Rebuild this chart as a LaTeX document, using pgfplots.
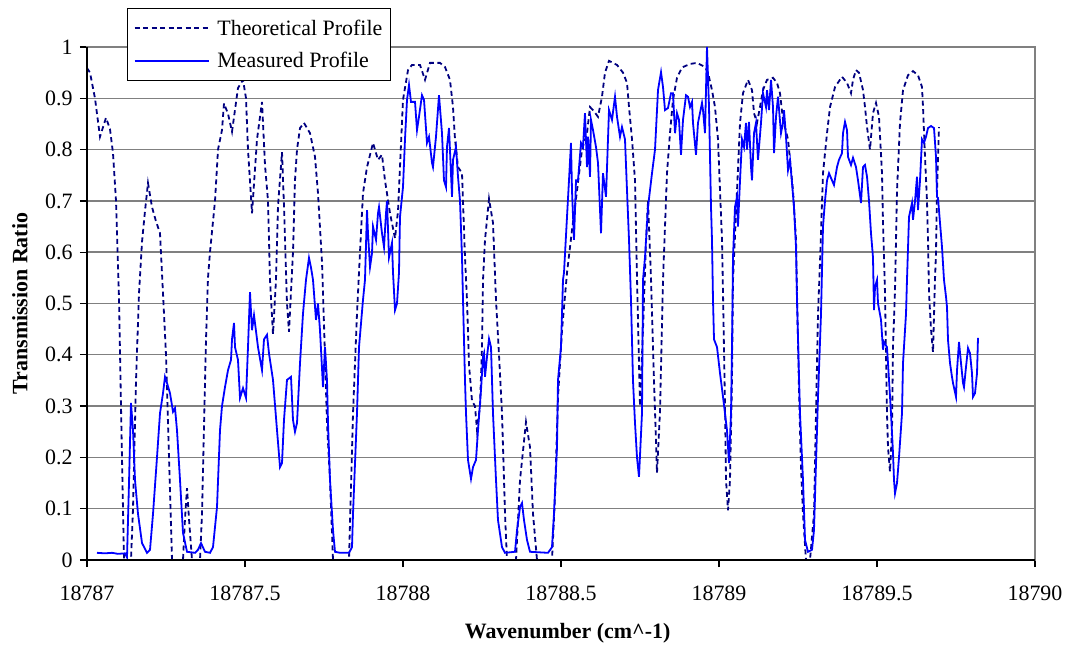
\documentclass[border=0pt]{standalone}
\usepackage{fontspec}
\setmainfont{Liberation Serif}
\usepackage{pgfplots}
\usepackage{pgfplotstable}
\pgfplotsset{compat=1.18}
\definecolor{theo}{RGB}{0,0,128}
\definecolor{meas}{RGB}{0,0,255}
\definecolor{gridgray}{RGB}{128,128,128}

% dx = wavenumber - 18787 (cm^-1)
\pgfplotstableread{
dx y
0.0000 0.959
0.0095 0.950
0.0253 0.900
0.0411 0.825
0.0601 0.862
0.0728 0.840
0.0823 0.793
0.0918 0.700
0.1013 0.510
0.1076 0.300
0.1139 0.100
0.1171 0.000
0.1392 0.000
0.1456 0.100
0.1551 0.350
0.1646 0.520
0.1741 0.620
0.1835 0.680
0.1930 0.735
0.2057 0.688
0.2184 0.660
0.2310 0.637
0.2405 0.520
0.2500 0.400
0.2595 0.200
0.2690 0.000
0.3038 0.000
0.3101 0.080
0.3165 0.140
0.3228 0.080
0.3323 0.000
0.3576 0.000
0.3639 0.090
0.3766 0.430
0.3829 0.550
0.3892 0.600
0.4051 0.700
0.4146 0.800
0.4272 0.838
0.4335 0.890
0.4462 0.870
0.4589 0.835
0.4778 0.920
0.4937 0.936
0.5032 0.900
0.5095 0.800
0.5222 0.676
0.5380 0.820
0.5538 0.893
0.5633 0.770
0.5728 0.700
0.5791 0.546
0.5886 0.440
0.5981 0.546
0.6044 0.690
0.6171 0.795
0.6234 0.690
0.6329 0.500
0.6392 0.445
0.6519 0.600
0.6582 0.740
0.6646 0.800
0.6741 0.842
0.6867 0.852
0.7057 0.832
0.7215 0.786
0.7310 0.715
0.7437 0.580
0.7500 0.460
0.7595 0.267
0.7690 0.156
0.7785 0.000
0.8291 0.000
0.8418 0.286
0.8544 0.480
0.8639 0.600
0.8734 0.715
0.8861 0.766
0.9051 0.813
0.9209 0.780
0.9335 0.790
0.9430 0.740
0.9589 0.676
0.9747 0.627
0.9842 0.680
1.0000 0.897
1.0158 0.955
1.0285 0.965
1.0538 0.965
1.0696 0.936
1.0854 0.969
1.1171 0.969
1.1329 0.961
1.1487 0.936
1.1582 0.883
1.1646 0.820
1.1741 0.766
1.1867 0.754
1.1962 0.590
1.2025 0.507
1.2089 0.380
1.2184 0.310
1.2278 0.300
1.2342 0.253
1.2437 0.300
1.2500 0.415
1.2532 0.546
1.2595 0.624
1.2722 0.704
1.2848 0.657
1.2943 0.507
1.3038 0.400
1.3133 0.286
1.3228 0.090
1.3291 0.000
1.3576 0.000
1.3703 0.156
1.3892 0.269
1.4019 0.220
1.4114 0.090
1.4241 0.000
1.4715 0.000
1.4810 0.123
1.4905 0.318
1.5032 0.448
1.5190 0.560
1.5348 0.643
1.5506 0.720
1.5665 0.800
1.5823 0.832
1.5918 0.883
1.6013 0.877
1.6171 0.864
1.6297 0.903
1.6392 0.950
1.6519 0.973
1.6772 0.965
1.6962 0.950
1.7089 0.930
1.7152 0.883
1.7247 0.820
1.7342 0.740
1.7405 0.550
1.7500 0.300
1.7595 0.450
1.7690 0.620
1.7753 0.700
1.7848 0.550
1.7943 0.350
1.8038 0.170
1.8133 0.290
1.8228 0.546
1.8354 0.754
1.8449 0.832
1.8544 0.897
1.8671 0.940
1.8829 0.960
1.9082 0.967
1.9304 0.969
1.9557 0.961
1.9652 0.950
1.9778 0.916
1.9873 0.883
1.9968 0.820
2.0032 0.720
2.0095 0.624
2.0127 0.520
2.0190 0.300
2.0222 0.156
2.0285 0.097
2.0348 0.156
2.0411 0.350
2.0443 0.546
2.0570 0.720
2.0665 0.852
2.0759 0.910
2.0918 0.936
2.1044 0.916
2.1108 0.871
2.1203 0.852
2.1297 0.883
2.1392 0.916
2.1519 0.936
2.1709 0.940
2.1835 0.930
2.1930 0.910
2.2025 0.858
2.2184 0.820
2.2342 0.720
2.2437 0.624
2.2468 0.520
2.2532 0.330
2.2595 0.180
2.2658 0.090
2.2753 0.000
2.2880 0.000
2.3006 0.090
2.3070 0.286
2.3133 0.480
2.3196 0.580
2.3291 0.754
2.3418 0.832
2.3513 0.883
2.3671 0.922
2.3892 0.942
2.4051 0.930
2.4177 0.910
2.4241 0.936
2.4335 0.955
2.4430 0.950
2.4557 0.916
2.4620 0.883
2.4684 0.844
2.4778 0.800
2.4873 0.871
2.4968 0.891
2.5063 0.864
2.5158 0.754
2.5190 0.657
2.5253 0.520
2.5316 0.286
2.5348 0.220
2.5411 0.172
2.5475 0.253
2.5506 0.415
2.5570 0.526
2.5633 0.720
2.5728 0.852
2.5823 0.916
2.5981 0.945
2.6139 0.953
2.6297 0.945
2.6424 0.922
2.6456 0.883
2.6519 0.786
2.6582 0.700
2.6614 0.624
2.6646 0.520
2.6709 0.450
2.6772 0.405
2.6835 0.546
2.6867 0.600
2.6899 0.720
2.6962 0.844
}\theory

\pgfplotstableread{
dx y
0.0316 0.014
0.0570 0.013
0.0791 0.014
0.0981 0.012
0.1203 0.013
0.1266 0.005
0.1329 0.150
0.1392 0.306
0.1456 0.253
0.1519 0.156
0.1614 0.090
0.1741 0.033
0.1899 0.014
0.1994 0.020
0.2089 0.090
0.2215 0.200
0.2310 0.286
0.2405 0.325
0.2468 0.357
0.2532 0.345
0.2627 0.325
0.2722 0.289
0.2785 0.296
0.2848 0.253
0.2943 0.156
0.3038 0.053
0.3165 0.016
0.3418 0.014
0.3513 0.020
0.3608 0.033
0.3734 0.016
0.3892 0.014
0.3987 0.025
0.4114 0.103
0.4209 0.253
0.4272 0.300
0.4367 0.337
0.4462 0.370
0.4557 0.390
0.4589 0.430
0.4652 0.462
0.4684 0.415
0.4778 0.390
0.4842 0.316
0.4937 0.335
0.5032 0.316
0.5095 0.415
0.5158 0.522
0.5222 0.448
0.5285 0.477
0.5411 0.415
0.5538 0.370
0.5601 0.430
0.5696 0.439
0.5759 0.403
0.5886 0.351
0.6013 0.253
0.6108 0.181
0.6171 0.189
0.6234 0.273
0.6329 0.351
0.6456 0.357
0.6519 0.273
0.6582 0.250
0.6646 0.267
0.6741 0.384
0.6835 0.480
0.6930 0.546
0.7025 0.589
0.7089 0.570
0.7152 0.546
0.7247 0.468
0.7310 0.500
0.7373 0.448
0.7468 0.337
0.7532 0.415
0.7595 0.350
0.7627 0.267
0.7690 0.156
0.7785 0.058
0.7848 0.016
0.8006 0.014
0.8291 0.014
0.8386 0.025
0.8418 0.090
0.8544 0.286
0.8608 0.415
0.8734 0.507
0.8797 0.546
0.8861 0.682
0.8892 0.637
0.8956 0.571
0.9019 0.598
0.9051 0.650
0.9146 0.624
0.9209 0.676
0.9241 0.688
0.9335 0.637
0.9399 0.610
0.9462 0.676
0.9494 0.700
0.9557 0.590
0.9652 0.618
0.9684 0.560
0.9747 0.487
0.9810 0.500
0.9873 0.560
0.9905 0.669
1.0000 0.727
1.0063 0.820
1.0127 0.897
1.0190 0.926
1.0253 0.893
1.0380 0.893
1.0443 0.838
1.0506 0.864
1.0601 0.906
1.0665 0.897
1.0759 0.813
1.0823 0.825
1.0918 0.774
1.0949 0.766
1.1044 0.825
1.1139 0.906
1.1234 0.832
1.1297 0.740
1.1361 0.727
1.1392 0.805
1.1456 0.842
1.1551 0.708
1.1582 0.780
1.1677 0.805
1.1741 0.747
1.1804 0.700
1.1867 0.590
1.1899 0.507
1.1962 0.350
1.1994 0.286
1.2057 0.195
1.2152 0.158
1.2215 0.181
1.2310 0.195
1.2373 0.253
1.2468 0.331
1.2532 0.396
1.2563 0.403
1.2595 0.357
1.2658 0.396
1.2722 0.431
1.2785 0.415
1.2848 0.286
1.2943 0.156
1.3006 0.078
1.3133 0.025
1.3228 0.014
1.3544 0.016
1.3608 0.058
1.3703 0.103
1.3766 0.111
1.3829 0.078
1.3924 0.039
1.4019 0.016
1.4589 0.014
1.4715 0.025
1.4778 0.090
1.4873 0.220
1.4905 0.351
1.5000 0.415
1.5063 0.546
1.5095 0.560
1.5190 0.669
1.5253 0.740
1.5316 0.813
1.5348 0.720
1.5411 0.624
1.5475 0.740
1.5538 0.740
1.5633 0.813
1.5696 0.805
1.5759 0.871
1.5823 0.766
1.5854 0.825
1.5918 0.747
1.5949 0.858
1.6013 0.838
1.6108 0.805
1.6171 0.774
1.6266 0.637
1.6329 0.754
1.6424 0.708
1.6519 0.877
1.6614 0.858
1.6709 0.903
1.6772 0.864
1.6867 0.825
1.6930 0.844
1.7025 0.820
1.7089 0.720
1.7152 0.624
1.7215 0.507
1.7278 0.350
1.7342 0.267
1.7405 0.200
1.7468 0.162
1.7563 0.286
1.7595 0.546
1.7658 0.590
1.7753 0.688
1.7880 0.754
1.7975 0.800
1.8070 0.916
1.8165 0.951
1.8228 0.922
1.8291 0.877
1.8386 0.881
1.8481 0.910
1.8544 0.910
1.8608 0.832
1.8671 0.871
1.8734 0.858
1.8797 0.790
1.8861 0.858
1.8956 0.906
1.9019 0.903
1.9082 0.883
1.9146 0.893
1.9177 0.852
1.9272 0.790
1.9335 0.852
1.9462 0.891
1.9494 0.877
1.9557 0.832
1.9620 1.000
1.9684 0.883
1.9747 0.688
1.9778 0.624
1.9810 0.507
1.9842 0.430
1.9937 0.415
2.0032 0.364
2.0127 0.318
2.0253 0.253
2.0316 0.189
2.0380 0.286
2.0411 0.415
2.0443 0.590
2.0506 0.688
2.0570 0.708
2.0601 0.650
2.0665 0.740
2.0728 0.820
2.0791 0.805
2.0854 0.852
2.0886 0.800
2.0949 0.854
2.1013 0.766
2.1044 0.740
2.1108 0.832
2.1171 0.852
2.1234 0.780
2.1329 0.852
2.1392 0.910
2.1487 0.883
2.1519 0.916
2.1582 0.877
2.1646 0.936
2.1709 0.883
2.1741 0.793
2.1804 0.864
2.1867 0.903
2.1962 0.832
2.2025 0.852
2.2057 0.877
2.2120 0.825
2.2184 0.760
2.2247 0.780
2.2310 0.735
2.2373 0.688
2.2437 0.610
2.2468 0.507
2.2563 0.286
2.2658 0.156
2.2722 0.039
2.2816 0.016
2.2943 0.020
2.3006 0.058
2.3070 0.189
2.3133 0.318
2.3228 0.480
2.3291 0.650
2.3354 0.700
2.3418 0.740
2.3481 0.754
2.3576 0.740
2.3639 0.731
2.3734 0.766
2.3797 0.780
2.3892 0.793
2.3924 0.832
2.3987 0.854
2.4051 0.838
2.4082 0.786
2.4177 0.770
2.4241 0.784
2.4335 0.766
2.4399 0.740
2.4494 0.696
2.4557 0.766
2.4620 0.770
2.4684 0.747
2.4747 0.700
2.4810 0.637
2.4873 0.590
2.4905 0.487
2.4937 0.532
2.5000 0.546
2.5032 0.500
2.5127 0.468
2.5190 0.410
2.5222 0.425
2.5316 0.415
2.5380 0.351
2.5443 0.286
2.5506 0.209
2.5538 0.156
2.5570 0.130
2.5633 0.150
2.5696 0.200
2.5791 0.286
2.5823 0.384
2.5918 0.480
2.5949 0.546
2.6013 0.669
2.6108 0.696
2.6139 0.663
2.6203 0.700
2.6266 0.747
2.6297 0.682
2.6361 0.740
2.6424 0.820
2.6487 0.813
2.6551 0.825
2.6614 0.842
2.6709 0.846
2.6804 0.842
2.6867 0.786
2.6899 0.708
2.6930 0.706
2.6994 0.657
2.7057 0.610
2.7120 0.546
2.7184 0.513
2.7215 0.493
2.7247 0.429
2.7310 0.384
2.7373 0.357
2.7405 0.345
2.7500 0.318
2.7532 0.370
2.7595 0.425
2.7658 0.384
2.7722 0.345
2.7753 0.337
2.7816 0.376
2.7880 0.413
2.7943 0.403
2.8006 0.364
2.8038 0.318
2.8101 0.325
2.8165 0.364
2.8196 0.433
}\measured

\begin{document}
\begin{tikzpicture}
\useasboundingbox (-87bp,-88bp) rectangle (985bp,560bp);
\begin{axis}[
  name=ax,
  at={(0,0)}, anchor=south west,
  scale only axis, width=948bp, height=513bp,
  xmin=0, xmax=3, ymin=0, ymax=1,
  xtick={0,0.5,1,1.5,2,2.5,3},
  xticklabels={18787,18787.5,18788,18788.5,18789,18789.5,18790},
  ytick={0,0.1,0.2,0.3,0.4,0.5,0.6,0.7,0.8,0.9,1},
  yticklabels={0,0.1,0.2,0.3,0.4,0.5,0.6,0.7,0.8,0.9,1},
  xtick pos=left, ytick pos=left,
  tick align=outside,
  major tick length=7bp,
  tick style={black, line width=1.3bp},
  ymajorgrids,
  grid style={gridgray, line width=1.4bp},
  axis line style={gridgray, line width=1.6bp},
  tick label style={font=\fontsize{22}{26}\selectfont},
  xticklabel style={yshift=-15bp},
  yticklabel style={xshift=-4bp},
  xlabel={Wavenumber (cm\textasciicircum-1)},
  ylabel={Transmission Ratio},
  label style={font=\fontsize{22}{26}\selectfont\bfseries},
  xlabel style={at={(axis description cs:0.507,-0.1423)}, anchor=center},
  ylabel style={at={(axis description cs:-0.0707,0.5)}, anchor=center},
  legend cell align=left,
  legend image code/.code={\draw[#1] (0bp,0bp) -- (74bp,0bp);},
  legend style={at={(0.0422,1.076)}, anchor=north west, draw=black,
    line width=1.2bp, fill=white, font=\fontsize{22}{26}\selectfont,
    inner xsep=6bp, inner ysep=9bp, row sep=12bp,
    /tikz/every odd column/.append style={column sep=6bp}},
]
\addplot[theo, line width=1.8bp, dash pattern=on 5bp off 3.5bp] table[x=dx, y=y] {\theory};
\addlegendentry{Theoretical Profile}
\addplot[meas, line width=1.8bp] table[x=dx, y=y] {\measured};
\addlegendentry{Measured Profile}
\end{axis}
\draw[black, line width=1.6bp] (ax.north west) -- (ax.south west) -- (ax.south east);
\end{tikzpicture}
\end{document}
